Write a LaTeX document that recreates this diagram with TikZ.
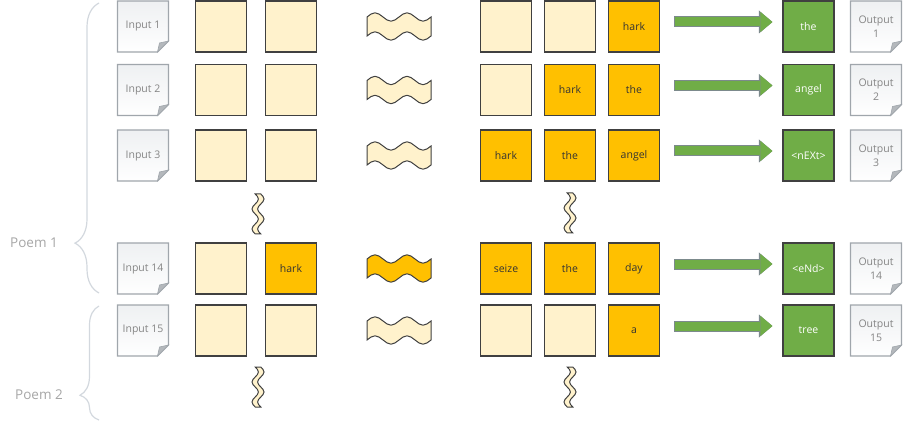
\documentclass[tikz,border=0pt]{standalone}
\usepackage{fontspec}
\setmainfont{Open Sans}
\usepackage{tikz}
\usetikzlibrary{arrows.meta,decorations.pathreplacing}

\definecolor{paleyellow}{HTML}{FFF2CC}
\definecolor{gold}{HTML}{FFC000}
\definecolor{leafgreen}{HTML}{70AD47}
\definecolor{boxedge}{HTML}{404040}
\definecolor{wordtext}{HTML}{333333}
\definecolor{docedge}{HTML}{A0A6AC}
\definecolor{doctext}{HTML}{858585}
\definecolor{docshade}{HTML}{EEF0F2}
\definecolor{foldgray}{HTML}{B4B8BC}
\definecolor{arrowedge}{HTML}{7C8A8C}
\definecolor{bracegray}{HTML}{D3D8DE}
\definecolor{poemgray}{HTML}{A6A6A6}

\tikzset{
  wavelen/.store in=\wavelen, wavesep/.store in=\wavesep, waveamp/.store in=\waveamp,
  wavelen=32, wavesep=9.5, waveamp=4.2,
  wavepatch/.pic={
    \filldraw[pic actions] (-\wavelen,-\wavesep)
      sin ++({\wavelen/4},{-\waveamp}) cos ++({\wavelen/4},{\waveamp})
      sin ++({\wavelen/4},{\waveamp}) cos ++({\wavelen/4},{-\waveamp})
      sin ++({\wavelen/4},{-\waveamp}) cos ++({\wavelen/4},{\waveamp})
      sin ++({\wavelen/4},{\waveamp}) cos ++({\wavelen/4},{-\waveamp})
      -- (\wavelen,\wavesep)
      sin ++({-\wavelen/4},{\waveamp}) cos ++({-\wavelen/4},{-\waveamp})
      sin ++({-\wavelen/4},{-\waveamp}) cos ++({-\wavelen/4},{\waveamp})
      sin ++({-\wavelen/4},{\waveamp}) cos ++({-\wavelen/4},{-\waveamp})
      sin ++({-\wavelen/4},{-\waveamp}) cos ++({-\wavelen/4},{\waveamp})
      -- cycle;
  }
}

\begin{document}
\begin{tikzpicture}[x=1pt, y=-1pt,
  blank/.style={rectangle, draw=boxedge, line width=1.1pt, fill=paleyellow, minimum size=51pt, inner sep=0pt},
  word/.style={blank, fill=gold, text=wordtext, font=\fontsize{10.5}{14}\selectfont},
  guess/.style={word, fill=leafgreen, text=white},
  doc/.style={rectangle, fill=white, minimum size=53pt, inner sep=0pt, align=center, text=doctext,
    font=\fontsize{10.5}{14}\selectfont,
    path picture={
      \path[top color=docshade, bottom color=white, draw=docedge, line width=1.1pt]
        ([shift={(1pt,-1pt)}]path picture bounding box.north west)
        -- ([shift={(-1pt,-1pt)}]path picture bounding box.north east)
        -- ([shift={(-1pt,12pt)}]path picture bounding box.south east)
        -- ([shift={(-12pt,1pt)}]path picture bounding box.south east)
        -- ([shift={(1pt,1pt)}]path picture bounding box.south west) -- cycle;
      \filldraw[fill=foldgray, draw=docedge, line width=0.6pt]
        ([shift={(-1pt,12pt)}]path picture bounding box.south east)
        -- ([shift={(-12pt,1pt)}]path picture bounding box.south east)
        -- ([shift={(-10pt,10pt)}]path picture bounding box.south east) -- cycle;
    }},
  tape/.style={draw=boxedge, line width=1pt, fill=paleyellow},
  goldtape/.style={tape, fill=gold},
  breaktape/.style={tape, rotate=90, wavelen=20, wavesep=2.8, waveamp=3.2},
  fatarrow/.style={draw=leafgreen, line width=9pt,
    -{Triangle[length=12pt 0, width=20pt 0, line width=0pt]}, shorten <=15pt, shorten >=10pt,
    preaction={draw=arrowedge, line width=11pt,
      -{Triangle[length=13.5pt 0, width=23pt 0, line width=0pt]}, shorten <=14pt, shorten >=10pt}},
  bracket/.style={draw=bracegray, line width=1.2pt, decorate},
  poem/.style={text=poemgray, font=\fontsize{13.5}{16}\selectfont, anchor=east, inner sep=2pt}]

  \useasboundingbox (0,0) rectangle (905,422);

  % Braces
  \draw[bracket, decoration={brace, amplitude=24pt, aspect=0.172}] (99,293) -- (99,3);
  \draw[bracket, decoration={brace, amplitude=19pt, aspect=0.217}] (99,420) -- (99,306);
  \node[poem] (poem1) at (60,243) {Poem 1};
  \node[poem] (poem2) at (65,395) {Poem 2};

  % Row 1
  \node[doc] (input1) at (143,26.5) {Input 1};
  \node[blank] (slotA1) at (221,26.5) {};
  \node[blank] (slotB1) at (291,26.5) {};
  \pic[tape] at (399,26.5) {wavepatch};
  \node[blank] (slotC1) at (506,26.5) {};
  \node[blank] (slotD1) at (570,26.5) {};
  \node[word] (slotE1) at (634,26.5) {hark};
  \node[guess] (guess1) at (808.5,26.5) {the};
  \node[doc] (output1) at (876,26.5) {Output\\1};

  % Row 2
  \node[doc] (input2) at (143,90) {Input 2};
  \node[blank] (slotA2) at (221,90) {};
  \node[blank] (slotB2) at (291,90) {};
  \pic[tape] at (399,90) {wavepatch};
  \node[blank] (slotC2) at (506,90) {};
  \node[word] (slotD2) at (570,90) {hark};
  \node[word] (slotE2) at (634,90) {the};
  \node[guess] (guess2) at (808.5,90) {angel};
  \node[doc] (output2) at (876,90) {Output\\2};

  % Row 3
  \node[doc] (input3) at (143,155.5) {Input 3};
  \node[blank] (slotA3) at (221,155.5) {};
  \node[blank] (slotB3) at (291,155.5) {};
  \pic[tape] at (399,155.5) {wavepatch};
  \node[word] (slotC3) at (506,155.5) {hark};
  \node[word] (slotD3) at (570,155.5) {the};
  \node[word] (slotE3) at (634,155.5) {angel};
  \node[guess] (guess3) at (808.5,155.5) {<nEXt>};
  \node[doc] (output3) at (876,155.5) {Output\\3};

  % Skipped rows
  \pic[breaktape] at (258,214) {wavepatch};
  \pic[breaktape] at (570,213) {wavepatch};

  % Row 14
  \node[doc] (input14) at (143,268.5) {Input 14};
  \node[blank] (slotA14) at (221,268.5) {};
  \node[word] (slotB14) at (291,268.5) {hark};
  \pic[goldtape] at (399,268.5) {wavepatch};
  \node[word] (slotC14) at (506,268.5) {seize};
  \node[word] (slotD14) at (570,268.5) {the};
  \node[word] (slotE14) at (634,268.5) {day};
  \node[guess] (guess14) at (808.5,268.5) {<eNd>};
  \node[doc] (output14) at (876,268.5) {Output\\14};

  % Row 15
  \node[doc] (input15) at (143,330.5) {Input 15};
  \node[blank] (slotA15) at (221,330.5) {};
  \node[blank] (slotB15) at (291,330.5) {};
  \pic[tape] at (399,330.5) {wavepatch};
  \node[blank] (slotC15) at (506,330.5) {};
  \node[blank] (slotD15) at (570,330.5) {};
  \node[word] (slotE15) at (634,330.5) {a};
  \node[guess] (guess15) at (808.5,330.5) {tree};
  \node[doc] (output15) at (876,330.5) {Output\\15};

  % Poem 2 continues
  \pic[breaktape] at (258,387) {wavepatch};
  \pic[breaktape] at (570,387) {wavepatch};

  % Arrows
  \draw[fatarrow] ([yshift=4.5pt]slotE1.east) -- ([yshift=4.5pt]guess1.west);
  \draw[fatarrow] ([yshift=4.5pt]slotE2.east) -- ([yshift=4.5pt]guess2.west);
  \draw[fatarrow] ([yshift=4.5pt]slotE3.east) -- ([yshift=4.5pt]guess3.west);
  \draw[fatarrow] ([yshift=4.5pt]slotE14.east) -- ([yshift=4.5pt]guess14.west);
  \draw[fatarrow] ([yshift=4.5pt]slotE15.east) -- ([yshift=4.5pt]guess15.west);
\end{tikzpicture}
\end{document}
